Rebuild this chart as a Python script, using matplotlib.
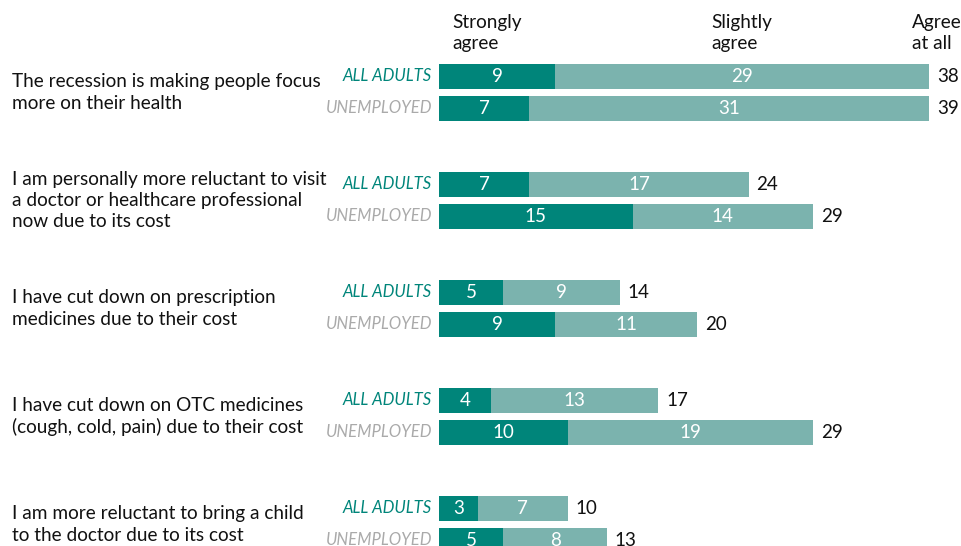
import matplotlib.pyplot as plt
from matplotlib.transforms import blended_transform_factory

plt.rcParams['font.family'] = ['Lato', 'DejaVu Sans']

# survey statements, one group of two bars each
questions = [
    "The recession is making people focus\nmore on their health",
    "I am personally more reluctant to visit\na doctor or healthcare professional\nnow due to its cost",
    "I have cut down on prescription\nmedicines due to their cost",
    "I have cut down on OTC medicines\n(cough, cold, pain) due to their cost",
    "I am more reluctant to bring a child\nto the doctor due to its cost",
]
groups = ["ALL ADULTS", "UNEMPLOYED"]

# percentages: [all adults, unemployed]
strongly = [[9, 7], [7, 15], [5, 9], [4, 10], [3, 5]]
slightly = [[29, 31], [17, 14], [9, 11], [13, 19], [7, 8]]
# "agree at all" totals as published (rounded separately)
totals = [[38, 39], [24, 29], [14, 20], [17, 29], [10, 13]]

dark = "#00857a"
light = "#7bb3ae"
group_colors = ["#00857a", "#aaaaaa"]

W, H = 962, 546
fig = plt.figure(figsize=(W / 100, H / 100), dpi=100)
ax = fig.add_axes([439 / W, 0, 523 / W, 1])
ax.set_xlim(0, 523 / 12.9)
ax.set_ylim(H / 32, 0)
ax.axis("off")

left_tr = blended_transform_factory(fig.transFigure, ax.transData)

for i, q in enumerate(questions):
    base = 2.39 + i * 3.375
    ax.text(12 / W, base + 0.5, q, transform=left_tr, ha="left", va="center",
            fontsize=13.7, color="#111111", linespacing=1.32)
    for j, g in enumerate(groups):
        y = base + j * 1.0
        s = strongly[i][j]
        t = slightly[i][j]
        ax.barh(y, s, height=0.78, color=dark)
        ax.barh(y, t, left=s, height=0.78, color=light)
        ax.text(s / 2, y, str(s), ha="center", va="center", color="white", fontsize=13.5)
        ax.text(s + t / 2, y, str(t), ha="center", va="center", color="white", fontsize=13.5)
        ax.text(s + t + 0.6, y, str(totals[i][j]), ha="left", va="center",
                color="#111111", fontsize=13.5)
        ax.text(432 / W, y, g, transform=left_tr, ha="right", va="center",
                fontsize=12, style="italic", color=group_colors[j])

# column headers
for x, label in [(452, "Strongly\nagree"), (711, "Slightly\nagree"), (912, "Agree\nat all")]:
    fig.text(x / W, 1 - 33 / H, label, ha="left", va="center", fontsize=13.7,
             color="#111111", linespacing=1.25)

fig.savefig("out.png", dpi=100)
